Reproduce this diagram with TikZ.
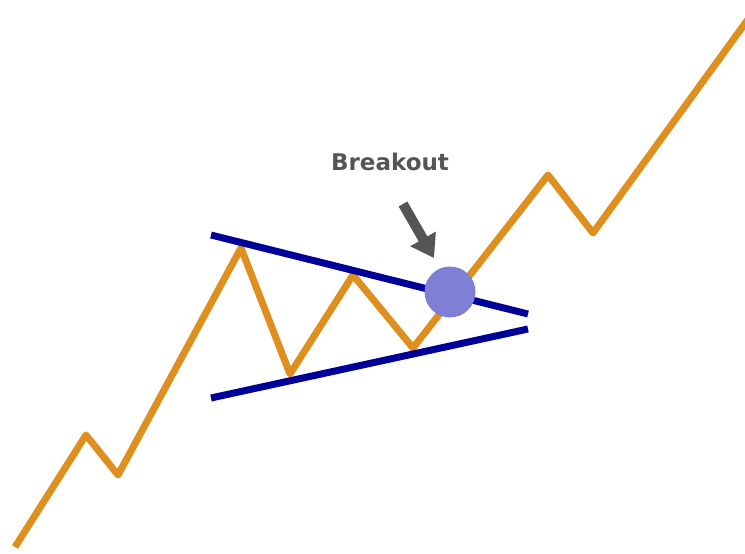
\documentclass[tikz,border=0pt]{standalone}
\usepackage{fontspec}
\setmainfont{DejaVu Sans}
\usetikzlibrary{arrows.meta}
\definecolor{trend}{HTML}{DE8F1E}
\definecolor{navy}{HTML}{000099}
\definecolor{dot}{HTML}{7F7FD6}
\definecolor{arr}{HTML}{555555}
\begin{document}
\begin{tikzpicture}[x=1pt,y=-1pt,
  price/.style={draw=trend,line width=7pt,line join=round},
  bound/.style={draw=navy,line width=7pt},
  pointer/.style={draw=arr,line width=10pt,-{Triangle[width=28pt,length=22pt]}}]
\useasboundingbox (0,0) rectangle (745,554);
\clip (0,0) rectangle (745,554);
\coordinate (p0) at (15,547);
\coordinate (p1) at (86,435);
\coordinate (p2) at (118,475);
\coordinate (p3) at (241,248);
\coordinate (p4) at (290,374);
\coordinate (p5) at (353,275);
\coordinate (p6) at (413,348);
\coordinate (p7) at (548,175);
\coordinate (p8) at (593,233);
\coordinate (p9) at (762,0);
\draw[price] (p0) -- (p1) -- (p2) -- (p3) -- (p4) -- (p5) -- (p6) -- (p7) -- (p8) -- (p9);
\coordinate (u1) at (211,235);
\coordinate (u2) at (528,314);
\coordinate (l1) at (211,398);
\coordinate (l2) at (528,329);
\draw[bound] (u1) -- (u2);
\draw[bound] (l1) -- (l2);
\node[circle,fill=dot,minimum size=51pt,inner sep=0pt] (brk) at (450,292) {};
\node[text=arr,font=\bfseries\fontsize{23}{26}\selectfont] (lbl) at (390,162) {Breakout};
\coordinate (a1) at (403,204);
\coordinate (a2) at (434,258);
\draw[pointer] (a1) -- (a2);
\end{tikzpicture}
\end{document}
